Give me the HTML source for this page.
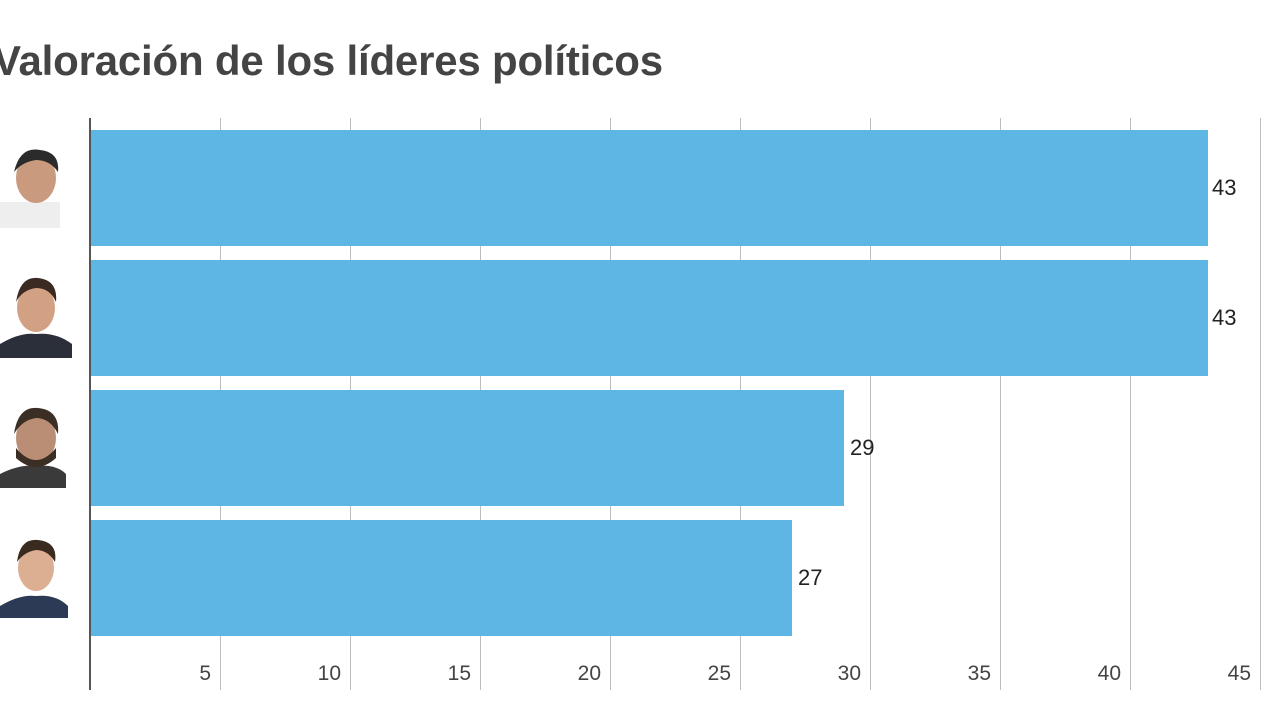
<!DOCTYPE html>
<html><head><meta charset="utf-8"><style>
body{margin:0;width:1280px;height:720px;background:#fff;overflow:hidden;position:relative;font-family:"Liberation Sans",sans-serif}
.t{position:absolute;left:-7px;top:37px;font-size:42px;font-weight:bold;color:#444;letter-spacing:-0.2px}
.g{position:absolute;top:118px;height:572px;width:1px;background:#bdbdbd}
.ax{position:absolute;left:89px;top:118px;width:2px;height:572px;background:#555}
.bar{position:absolute;left:91px;height:116px;background:#5eb6e4}
.v{position:absolute;font-size:22px;color:#222}
.tk{position:absolute;top:662px;font-size:21px;color:#444;text-align:right;width:40px}
.ph{position:absolute;left:0;width:72px;height:86px}
</style></head><body>
<div class="t">Valoración de los líderes políticos</div>
<div class="g" style="left:220px"></div><div class="g" style="left:350px"></div><div class="g" style="left:480px"></div><div class="g" style="left:610px"></div><div class="g" style="left:740px"></div><div class="g" style="left:870px"></div><div class="g" style="left:1000px"></div><div class="g" style="left:1130px"></div><div class="g" style="left:1260px"></div>
<div class="bar" style="top:130px;width:1117px"></div>
<div class="bar" style="top:260px;width:1117px"></div>
<div class="bar" style="top:390px;width:753px"></div>
<div class="bar" style="top:520px;width:701px"></div>
<div class="ax"></div>
<div class="v" style="left:1212px;top:175px">43</div>
<div class="v" style="left:1212px;top:305px">43</div>
<div class="v" style="left:850px;top:435px">29</div>
<div class="v" style="left:798px;top:565px">27</div>
<div class="tk" style="left:171px">5</div><div class="tk" style="left:301px">10</div><div class="tk" style="left:431px">15</div><div class="tk" style="left:561px">20</div><div class="tk" style="left:691px">25</div><div class="tk" style="left:821px">30</div><div class="tk" style="left:951px">35</div><div class="tk" style="left:1081px">40</div><div class="tk" style="left:1211px">45</div>
<svg class="ph" style="top:142px" viewBox="0 0 72 86"><rect x="0" y="60" width="60" height="26" fill="#eee"/><ellipse cx="36" cy="36" rx="20" ry="25" fill="#c99a7e"/><path d="M14 30 Q20 4 40 8 Q60 10 58 30 Q50 18 36 18 Q22 20 14 30Z" fill="#2b2b2b"/></svg>
<svg class="ph" style="top:272px" viewBox="0 0 72 86"><path d="M0 86 L0 72 Q20 60 36 62 Q56 60 72 72 L72 86Z" fill="#2a2f3a"/><ellipse cx="36" cy="36" rx="19" ry="24" fill="#d2a184"/><path d="M16 30 Q20 4 38 6 Q58 8 56 30 Q50 16 36 16 Q22 18 16 30Z" fill="#3a2a22"/></svg>
<svg class="ph" style="top:402px" viewBox="0 0 72 86"><path d="M0 86 L0 72 Q20 62 36 64 Q56 62 66 72 L66 86Z" fill="#3a3a3a"/><ellipse cx="36" cy="36" rx="20" ry="25" fill="#b98e74"/><path d="M16 46 Q36 70 56 46 L56 56 Q36 74 16 56Z" fill="#3b2e25"/><path d="M14 32 Q18 4 38 6 Q60 8 58 32 Q50 16 36 16 Q22 18 14 32Z" fill="#3b2e25"/></svg>
<svg class="ph" style="top:532px" viewBox="0 0 72 86"><path d="M0 86 L0 74 Q20 62 36 64 Q56 62 68 74 L68 86Z" fill="#2d3a55"/><ellipse cx="36" cy="36" rx="18" ry="23" fill="#dcae92"/><path d="M17 30 Q20 6 38 8 Q58 10 55 30 Q48 18 36 18 Q24 20 17 30Z" fill="#3a2a20"/></svg>
</body></html>
